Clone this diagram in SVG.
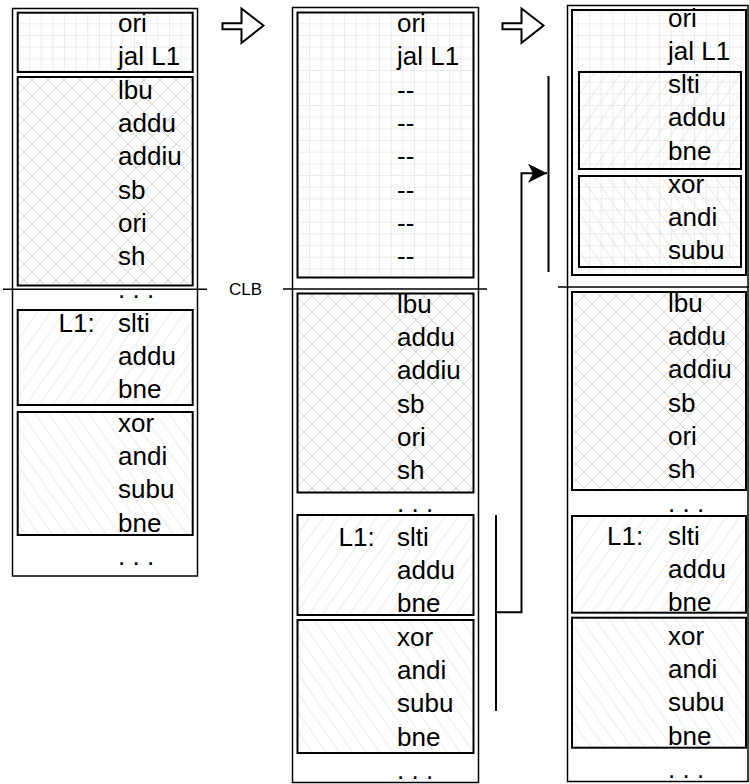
<svg xmlns="http://www.w3.org/2000/svg" width="749" height="784" viewBox="0 0 749 784">
<style>
.outer{fill:#fff;stroke:#000;stroke-width:1.5}
.blk{stroke:#000;stroke-width:2}
.grid{fill:url(#pGrid)}
.cross{fill:url(#pCross)}
.fwd{fill:url(#pFwd)}
.back{fill:url(#pBack)}
.clb{stroke:#000;stroke-width:1.5;fill:none}
text{font-family:"Liberation Sans",Arial,sans-serif;font-size:26px;fill:#000}
.small{font-size:17px}
.conn{stroke:#000;stroke-width:2;fill:none}
.harrow{fill:#fff;stroke:#000;stroke-width:2;stroke-linejoin:miter}
</style>
<defs>
<pattern id="pGrid" patternUnits="userSpaceOnUse" width="11.67" height="11.67" x="5.6" y="0">
<path d="M0,0 V11.67 M0,0 H11.67" stroke="#d9d9d9" stroke-width="1" fill="none"/>
</pattern>
<pattern id="pCross" patternUnits="userSpaceOnUse" width="16" height="16">
<path d="M0,0 L16,16 M16,0 L0,16" stroke="#d4d4d4" stroke-width="1" fill="none"/>
</pattern>
<pattern id="pFwd" patternUnits="userSpaceOnUse" width="11" height="11" patternTransform="rotate(35)">
<path d="M0,-1 V12" stroke="#d4d4d4" stroke-width="1" fill="none"/>
</pattern>
<pattern id="pBack" patternUnits="userSpaceOnUse" width="11" height="11" patternTransform="rotate(-35)">
<path d="M0,-1 V12" stroke="#d4d4d4" stroke-width="1" fill="none"/>
</pattern>
<marker id="ah" markerUnits="userSpaceOnUse" viewBox="-20 -11 21 22" refX="0" refY="0" markerWidth="21" markerHeight="22" orient="auto">
<path d="M0,0 L-19,-9.5 L-14,0 L-19,9.5 Z" fill="#000"/>
</marker>
</defs>

<g id="col1">
<rect class="outer" x="12.5" y="8.5" width="185" height="567.5"/>
<g id="c1-head">
<rect class="blk grid" x="17.7" y="12.7" width="175" height="59.3"/>
<text x="118" y="32">ori</text>
<text x="118" y="65.3">jal L1</text>
</g>
<g id="c1-lbu">
<rect class="blk cross" x="17.7" y="77" width="175" height="208.5"/>
<text x="118" y="98.6">lbu</text>
<text x="118" y="131.9">addu</text>
<text x="118" y="165.2">addiu</text>
<text x="118" y="198.5">sb</text>
<text x="118" y="231.8">ori</text>
<text x="118" y="265.1">sh</text>
</g>
<text x="118" y="298.4">. . .</text>
<g id="c1-slti">
<rect class="blk fwd" x="17.7" y="310" width="175" height="95"/>
<text x="58.5" y="331.7">L1:</text>
<text x="118" y="331.7">slti</text>
<text x="118" y="365">addu</text>
<text x="118" y="398.3">bne</text>
</g>
<g id="c1-xor">
<rect class="blk back" x="17.7" y="412" width="175" height="123"/>
<text x="118" y="431.6">xor</text>
<text x="118" y="464.9">andi</text>
<text x="118" y="498.2">subu</text>
<text x="118" y="531.5">bne</text>
</g>
<text x="118" y="564.8">. . .</text>
<line class="clb" x1="3" y1="289.3" x2="207" y2="289.3"/>
</g>

<g id="clb-label">
<text class="small" x="229" y="295">CLB</text>
</g>

<g id="arrow1">
<polygon class="harrow" points="222.5,23.3 241.5,23.3 241.5,8.5 263.5,25.5 241.5,43 241.5,29.3 222.5,29.3"/>
</g>
<g id="arrow2">
<polygon class="harrow" points="502.5,23.3 521.5,23.3 521.5,8.5 543.5,25.5 521.5,43 521.5,29.3 502.5,29.3"/>
</g>

<g id="col2">
<rect class="outer" x="292.5" y="7.5" width="186" height="775"/>
<g id="c2-head">
<rect class="blk grid" x="297.5" y="12.5" width="176" height="265"/>
<text x="397" y="32">ori</text>
<text x="397" y="65.3">jal L1</text>
<text x="397" y="98.6">--</text>
<text x="397" y="131.9">--</text>
<text x="397" y="165.2">--</text>
<text x="397" y="198.5">--</text>
<text x="397" y="231.8">--</text>
<text x="397" y="265.1">--</text>
</g>
<line class="clb" x1="283" y1="289" x2="487" y2="289"/>
<g id="c2-lbu">
<rect class="blk cross" x="297.5" y="293.5" width="176" height="199"/>
<text x="397" y="312.6">lbu</text>
<text x="397" y="345.9">addu</text>
<text x="397" y="379.2">addiu</text>
<text x="397" y="412.5">sb</text>
<text x="397" y="445.8">ori</text>
<text x="397" y="479.1">sh</text>
</g>
<text x="397" y="512.4">. . .</text>
<g id="c2-slti">
<rect class="blk fwd" x="297.5" y="515" width="176" height="100"/>
<text x="338.5" y="545.7">L1:</text>
<text x="397" y="545.7">slti</text>
<text x="397" y="579">addu</text>
<text x="397" y="612.3">bne</text>
</g>
<g id="c2-xor">
<rect class="blk back" x="297.5" y="620" width="176" height="133"/>
<text x="397" y="645.6">xor</text>
<text x="397" y="678.9">andi</text>
<text x="397" y="712.2">subu</text>
<text x="397" y="745.5">bne</text>
</g>
<text x="397" y="778.8">. . .</text>
</g>

<g id="col3">
<rect class="outer" x="567.5" y="5.5" width="180.5" height="776"/>
<g id="c3-head">
<rect class="blk grid" x="572" y="10" width="174" height="265"/>
<text x="668" y="26.7">ori</text>
<text x="668" y="59.9">jal L1</text>
</g>
<g id="c3-slti-moved">
<rect class="blk fwd" x="579" y="72" width="162" height="97"/>
<text x="668" y="93.1">slti</text>
<text x="668" y="126.3">addu</text>
<text x="668" y="159.5">bne</text>
</g>
<g id="c3-xor-moved">
<rect class="blk back" x="579" y="176" width="162" height="91"/>
<text x="668" y="192.7">xor</text>
<text x="668" y="225.9">andi</text>
<text x="668" y="259.1">subu</text>
</g>
<line class="clb" x1="558" y1="287" x2="749" y2="287"/>
<g id="c3-lbu">
<rect class="blk cross" x="572" y="292" width="174" height="198"/>
<text x="668" y="311.7">lbu</text>
<text x="668" y="345">addu</text>
<text x="668" y="378.3">addiu</text>
<text x="668" y="411.6">sb</text>
<text x="668" y="444.9">ori</text>
<text x="668" y="478.2">sh</text>
</g>
<text x="668" y="511.5">. . .</text>
<g id="c3-slti">
<rect class="blk fwd" x="572" y="516" width="174" height="96.7"/>
<text x="607" y="544.8">L1:</text>
<text x="668" y="544.8">slti</text>
<text x="668" y="578.1">addu</text>
<text x="668" y="611.4">bne</text>
</g>
<g id="c3-xor">
<rect class="blk back" x="572" y="617.7" width="174" height="130"/>
<text x="668" y="644.7">xor</text>
<text x="668" y="678">andi</text>
<text x="668" y="711.3">subu</text>
<text x="668" y="744.6">bne</text>
</g>
<text x="668" y="777.9">. . .</text>
</g>

<g id="connectors">
<line class="conn" x1="496" y1="515" x2="496" y2="711"/>
<line class="conn" x1="548.5" y1="76" x2="548.5" y2="272"/>
<path class="conn" d="M496,612.3 H521.5 V173.3 H547" marker-end="url(#ah)"/>
</g>
</svg>
